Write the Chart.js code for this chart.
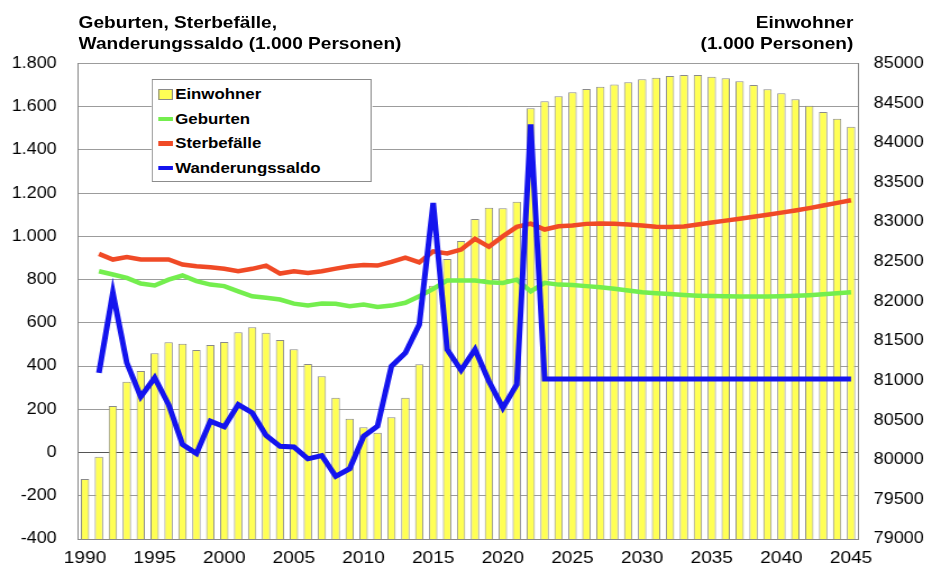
<!DOCTYPE html>
<html lang="de">
<head>
<meta charset="utf-8">
<title>Geburten, Sterbefälle, Wanderungssaldo und Einwohner</title>
<script src="https://cdn.jsdelivr.net/npm/chart.js@4.4.1/dist/chart.umd.min.js"></script>
<style>
  html, body { margin: 0; padding: 0; background: #fff; overflow: hidden; }
  /* the original picture is a little stretched in width, so the whole page is too */
  #wrap { position: relative; width: 830px; height: 574px; transform: scaleX(1.12289); transform-origin: 0 0;
          font-family: "Liberation Sans", Arial, sans-serif; color: #000; }
  #wrap canvas { position: absolute; left: 0; top: 0; }
  .title { position: absolute; top: 12px; font-weight: bold; font-size: 17px; line-height: 21px; white-space: nowrap; }
  #titleLeft { left: 70px; }
  #titleRight { right: 70px; text-align: right; }
  #legend { position: absolute; left: 135px; top: 79px; width: 196px; height: 103px; box-sizing: border-box;
            border: 1px solid #8c8c8c; background: #fff; }
  .item { position: absolute; left: 0; width: 190px; height: 20px; font-weight: bold; font-size: 15px; line-height: 20px; }
  .mark { position: absolute; left: 5px; width: 12.5px; }
  .box { top: 4.5px; height: 9px; border: 1px solid #8a8a8a; background: #ffff55; width: 10.5px; }
  .line { top: 8px; height: 4.5px; }
  .text { position: absolute; left: 20px; white-space: nowrap; }
</style>
</head>
<body>
<div id="wrap">
  <canvas id="chart" width="830" height="574"></canvas>
  <div class="title" id="titleLeft">Geburten, Sterbefälle,<br>Wanderungssaldo (1.000 Personen)</div>
  <div class="title" id="titleRight">Einwohner<br>(1.000 Personen)</div>
  <div id="legend">
    <div class="item" style="top: 4px"><span class="mark box"></span><span class="text">Einwohner</span></div>
    <div class="item" style="top: 28.5px"><span class="mark line" style="background: #74ee4e"></span><span class="text">Geburten</span></div>
    <div class="item" style="top: 53px"><span class="mark line" style="background: #f04a26"></span><span class="text">Sterbefälle</span></div>
    <div class="item" style="top: 77.5px"><span class="mark line" style="background: #1414ee"></span><span class="text">Wanderungssaldo</span></div>
  </div>
</div>
<script>
// years on the x axis
const years = [
  '1990', '1991', '1992', '1993', '1994', '1995', '1996', '1997', '1998', '1999',
  '2000', '2001', '2002', '2003', '2004', '2005', '2006', '2007', '2008', '2009',
  '2010', '2011', '2012', '2013', '2014', '2015', '2016', '2017', '2018', '2019',
  '2020', '2021', '2022', '2023', '2024', '2025', '2026', '2027', '2028', '2029',
  '2030', '2031', '2032', '2033', '2034', '2035', '2036', '2037', '2038', '2039',
  '2040', '2041', '2042', '2043', '2044', '2045'
];

// Einwohner, 1.000 Personen (right axis)
const einwohner = [
  79757, 80038, 80678, 80985, 81120, 81343, 81482, 81464, 81385, 81448,
  81486, 81608, 81671, 81603, 81511, 81394, 81208, 81053, 80783, 80518,
  80409, 80341, 80536, 80783, 81204, 82196, 82533, 82760, 83038, 83180,
  83173, 83256, 84435, 84523, 84586, 84636, 84678, 84707, 84735, 84763,
  84801, 84821, 84842, 84855, 84855, 84833, 84813, 84775, 84729, 84674,
  84624, 84548, 84467, 84388, 84303, 84202
];

// Geburten, 1.000 Personen (left axis)
const geburten = [
  null, 839, 824, 808, 782, 773, 800, 819, 793, 777,
  770, 746, 723, 716, 708, 689, 680, 689, 688, 677,
  685, 674, 680, 693, 723, 757, 796, 796, 796, 788,
  785, 800, 746, 785, 777, 775, 770, 765, 758, 750,
  742, 737, 733, 729, 726, 724, 723, 722, 722, 722,
  723, 725, 728, 732, 737, 742
];

// Sterbefälle, 1.000 Personen (left axis)
const sterbefaelle = [
  null, 919, 893, 905, 893, 893, 893, 870, 862, 857,
  850, 839, 850, 865, 828, 839, 831, 839, 851, 862,
  868, 865, 882, 902, 880, 931, 921, 939, 989, 952,
  1001, 1044, 1059, 1032, 1047, 1050, 1058, 1060, 1058, 1055,
  1050, 1045, 1043, 1046, 1055, 1064, 1073, 1082, 1091, 1100,
  1110, 1120, 1131, 1143, 1155, 1167
];

// Wanderungssaldo, 1.000 Personen (left axis)
const wanderungssaldo = [
  null, 369, 739, 415, 258, 346, 222, 37, -5, 145,
  119, 222, 184, 79, 29, 26, -29, -14, -110, -75,
  75, 122, 399, 461, 592, 1155, 477, 381, 477, 330,
  207, 315, 1518, 340, 340, 340, 340, 340, 340, 340,
  340, 340, 340, 340, 340, 340, 340, 340, 340, 340,
  340, 340, 340, 340, 340, 340
];

const tickFont = { family: '"Liberation Sans", Arial, sans-serif', size: 16 };

let ctx = document.getElementById('chart');
new Chart(ctx, {
  data: {
    labels: years,
    datasets: [
      {
        type: 'bar',
        label: 'Einwohner',
        data: einwohner,
        yAxisID: 'y1',
        backgroundColor: '#ffff55',
        borderColor: '#8a8a8a',
        borderWidth: 1,
        categoryPercentage: 1,
        barPercentage: 0.6,
        order: 10,
      },
      {
        type: 'line',
        label: 'Geburten',
        data: geburten,
        yAxisID: 'y',
        borderColor: '#74ee4e',
        borderWidth: 4.5,
        pointRadius: 0,
        tension: 0,
        order: 3,
      },
      {
        type: 'line',
        label: 'Sterbefälle',
        data: sterbefaelle,
        yAxisID: 'y',
        borderColor: '#f04a26',
        borderWidth: 4.5,
        pointRadius: 0,
        tension: 0,
        order: 2,
      },
      {
        type: 'line',
        label: 'Wanderungssaldo',
        data: wanderungssaldo,
        yAxisID: 'y',
        borderColor: '#1414ee',
        borderWidth: 5,
        pointRadius: 0,
        tension: 0,
        order: 1,
      },
    ],
  },
  options: {
    responsive: false,
    animation: false,
    devicePixelRatio: 1,
    layout: { padding: { top: 63.5, left: 0, right: 0, bottom: 0 } },
    plugins: {
      legend: { display: false },
      tooltip: { enabled: false },
    },
    scales: {
      x: {
        offset: true,
        grid: { display: false, drawTicks: false, tickLength: 0 },
        border: { display: true, color: '#888888' },
        ticks: {
          autoSkip: false,
          maxRotation: 0,
          padding: 9,
          color: '#000',
          font: { family: tickFont.family, size: 17 },
          callback: function (value) {
            let label = this.getLabelForValue(value);
            return Number(label) % 5 === 0 ? label : '';
          },
        },
        afterFit: (scale) => { scale.height = 35; },
      },
      y: {
        position: 'left',
        min: -400,
        max: 1800,
        grid: {
          drawTicks: false,
          tickLength: 0,
          color: (c) => (c.tick && c.tick.value === 0 ? '#555555' : '#9c9c9c'),
        },
        border: { display: true, color: '#888888' },
        ticks: {
          stepSize: 200,
          padding: 19,
          color: '#000',
          font: tickFont,
          callback: (v) => v.toLocaleString('de-DE'),
        },
        afterFit: (scale) => { scale.width = 69.5; },
      },
      y1: {
        position: 'right',
        min: 79000,
        max: 85000,
        grid: { display: false, drawTicks: false, tickLength: 0 },
        border: { display: true, color: '#888888' },
        ticks: {
          stepSize: 500,
          padding: 14,
          color: '#000',
          font: tickFont,
          callback: (v) => String(v),
        },
        afterFit: (scale) => { scale.width = 65.9; },
      },
    },
  },
});
</script>
</body>
</html>
